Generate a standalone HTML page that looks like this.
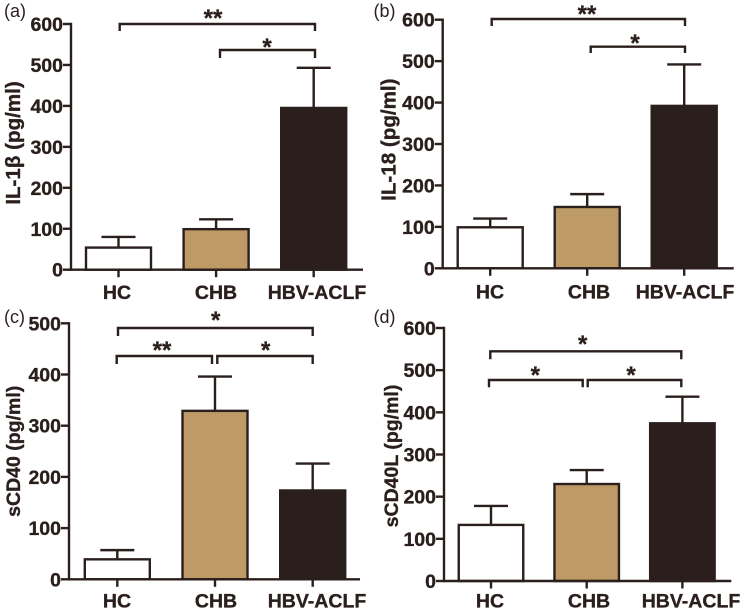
<!DOCTYPE html>
<html lang="en">
<head>
<meta charset="utf-8">
<title>Cytokine bar charts</title>
<style>
html,body{margin:0;padding:0;background:#fff;width:744px;height:612px;overflow:hidden}
svg{display:block;filter:blur(.3px)}
text{font-family:"Liberation Sans",sans-serif;fill:#2a1f1c}
.b{font-weight:bold;font-size:19.5px;stroke:#2a1f1c;stroke-width:.35px}
.s{font-weight:bold;font-size:24px;text-anchor:middle;stroke:#2a1f1c;stroke-width:.3px}
.p{font-size:18px}
</style>
</head>
<body>
<svg id="chart" width="744" height="612" viewBox="0 0 744 612" xmlns="http://www.w3.org/2000/svg"></svg>
<script>
const categories = ["HC", "CHB", "HBV-ACLF"];
const ticksA = [0, 100, 200, 300, 400, 500, 600];
const ticksB = [0, 100, 200, 300, 400, 500, 600];
const ticksC = [0, 100, 200, 300, 400, 500];
const ticksD = [0, 100, 200, 300, 400, 500, 600];
const meansA = [54, 99, 395];
const errorTopsA = [80, 123, 493];
const meansB = [99, 148, 392];
const errorTopsB = [120, 179, 492];
const meansC = [39, 329, 173.5];
const errorTopsC = [57, 396, 226];
const meansD = [133, 230, 374];
const errorTopsD = [178, 263, 437];

const ink = "#2a1f1c";
const fills = ["#ffffff", "#be9b66", "#2a1f1c"];
const panels = [
  {id:"a", title:"IL-1β (pg/ml)", titleSize:20.6, ticks:ticksA, means:meansA, tops:errorTopsA,
   axisX:71, y0:269.7, yTop:24, yMax:600, xEnd:363, first:118.5, step:97.6, barW:65, capW:34,
   labelX:[117,216,317], labelY:299, titleX:20, titleY:143, tagX:4, tagY:17,
   brackets:[[119.7,315,24,31,"**",213,13],[220,315,50,58,"*",267,42]]},
  {id:"b", title:"IL-18 (pg/ml)", titleSize:20.6, ticks:ticksB, means:meansB, tops:errorTopsB,
   axisX:442.7, y0:268.3, yTop:19.7, yMax:600, xEnd:733.7, first:490.2, step:97, barW:65, capW:34,
   labelX:[490,589,685], labelY:298.5, titleX:395.5, titleY:139.7, tagX:373.5, tagY:17,
   brackets:[[491.7,685,19,26,"**",587,9],[590.7,685,46.7,53,"*",635,38]]},
  {id:"c", title:"sCD40 (pg/ml)", titleSize:19.5, ticks:ticksC, means:meansC, tops:errorTopsC,
   axisX:69, y0:579.3, yTop:323.3, yMax:500, xEnd:360, first:117.3, step:97.7, barW:65, capW:34,
   labelX:[117,216,317], labelY:607.7, titleX:20, titleY:451.3, tagX:4, tagY:323,
   brackets:[[118,312.7,328,336,"*",215.7,315],[116.7,212,356,364,"**",162,345],[217.3,312.7,356,364,"*",265.7,345]]},
  {id:"d", title:"sCD40L (pg/ml)", titleSize:19.5, ticks:ticksD, means:meansD, tops:errorTopsD,
   axisX:444, y0:581, yTop:328, yMax:600, xEnd:731.3, first:491, step:95.7, barW:64.5, capW:34,
   labelX:[490,589,691], labelY:607.7, titleX:398, titleY:456, tagX:373.5, tagY:323,
   brackets:[[490.3,681.3,351.3,359.3,"*",582.7,339],[489,582.7,380,387.3,"*",535.3,370],[587.7,681.3,380,387.3,"*",631,370]]}
];

const root = document.getElementById("chart");
const NS = "http://www.w3.org/2000/svg";
function make(tag, parent, props, content) {
  const el = document.createElementNS(NS, tag);
  for (const k in props) el.setAttribute(k, props[k]);
  if (content !== undefined) el.textContent = content;
  parent.appendChild(el);
  return el;
}
const lineStyle = {stroke: ink, "stroke-width": 2.4, fill: "none"};

panels.forEach(function (p) {
  const y = function (v) { return p.y0 - (v / p.yMax) * (p.y0 - p.yTop); };
  const x = function (i) { return p.first + i * p.step; };

  const g = make("g", root, {});
  
  

  const tag = make("text", g, {x: p.tagX, y: p.tagY, class: "p"}, "(" + p.id + ")");
  
  

  const title = make("text", g, {class: "b", "text-anchor": "middle", style: "font-size:" + p.titleSize + "px",
    transform: "translate(" + p.titleX + " " + p.titleY + ") rotate(-90)"}, p.title);
  
  

  p.means.forEach(function (m, i) {
    const cx = x(i);
    const err = make("line", g, Object.assign({x1: cx, x2: cx, y1: y(m), y2: y(p.tops[i])}, lineStyle));
    
    

    const cap = make("line", g, Object.assign({x1: cx - p.capW / 2, x2: cx + p.capW / 2, y1: y(p.tops[i]), y2: y(p.tops[i])}, lineStyle));
    
    

    const bar = make("rect", g, {x: cx - p.barW / 2, y: y(m), width: p.barW, height: p.y0 - y(m),
      fill: fills[i], stroke: ink, "stroke-width": 2.4});
    
    

    const tick = make("line", g, Object.assign({x1: cx, x2: cx, y1: p.y0, y2: p.y0 + 7.5}, lineStyle));
    
    

    const label = make("text", g, {x: p.labelX[i], y: p.labelY, class: "b", "text-anchor": "middle"}, categories[i]);
    
    
  });

  const yAxis = make("line", g, Object.assign({x1: p.axisX, x2: p.axisX, y1: p.yTop - 1.2, y2: p.y0 + 1.2}, lineStyle));
  
  

  const xAxis = make("line", g, Object.assign({x1: p.axisX, x2: p.xEnd, y1: p.y0, y2: p.y0}, lineStyle));
  
  

  p.ticks.forEach(function (t) {
    const tk = make("line", g, Object.assign({x1: p.axisX - 8, x2: p.axisX, y1: y(t), y2: y(t)}, lineStyle));
    
    

    const tl = make("text", g, {x: p.axisX - 8, y: y(t) + 7, class: "b", "text-anchor": "end"}, t);
    
    
  });

  p.brackets.forEach(function (b) {
    const path = make("path", g, Object.assign({d: "M" + b[0] + " " + b[3] + "V" + b[2] + "H" + b[1] + "V" + b[3]}, lineStyle));
    
    

    const star = make("text", g, {x: b[5], y: b[6] + 13, class: "s"}, b[4]);
    
    
  });
});
</script>
</body>
</html>
